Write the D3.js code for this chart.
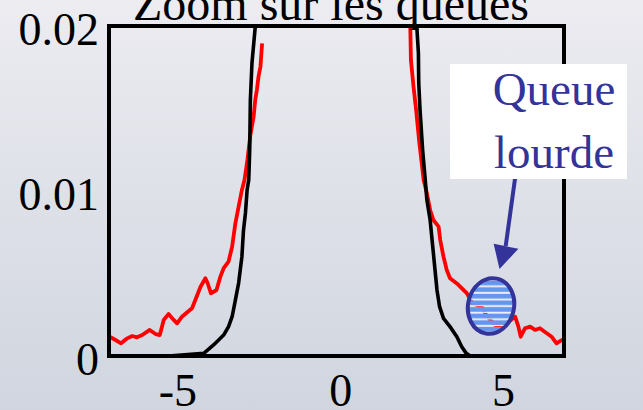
<!DOCTYPE html>
<html>
<head>
<meta charset="utf-8">
<script src="https://cdn.jsdelivr.net/npm/d3@7"></script>
<style>
  body { margin: 0; }
  svg { display: block; }
</style>
</head>
<body>
<div id="chart"></div>
<script>
// normal density (black)
var normLeftX = [-5.28, -4.19, -3.89, -3.58, -3.43, -3.32, -3.22, -3.12, -3.02, -2.97, -2.91, -2.86, -2.81, -2.78, -2.76, -2.71, -2.61, -2.55];
var normLeftY = [0, 0.00016, 0.00067, 0.00127, 0.00178, 0.00238, 0.00339, 0.00442, 0.00602, 0.00764, 0.00867, 0.01006, 0.01067, 0.01248, 0.01552, 0.01776, 0.01994, 0.021];
var normRightX = [2.33, 2.35, 2.40, 2.41, 2.45, 2.53, 2.61, 2.66, 2.76, 2.84, 2.91, 2.97, 3.05, 3.17, 3.37, 3.58, 3.73, 3.87, 3.99, 4.91];
var normRightY = [0.021, 0.01996, 0.01835, 0.01655, 0.01491, 0.01248, 0.01067, 0.00945, 0.00824, 0.00662, 0.00521, 0.004, 0.00299, 0.00228, 0.00178, 0.00117, 0.00056, 0.00016, 0, 0];

// empirical density (red)
var empLeftX = [-7.11, -6.90, -6.73, -6.54, -6.39, -6.24, -6.08, -5.85, -5.67, -5.54, -5.42, -5.27, -5.13, -5.01, -4.86, -4.68, -4.55, -4.45, -4.29, -4.14, -4.07, -3.97, -3.80, -3.68, -3.58, -3.43, -3.32, -3.22, -3.12, -3.02, -2.94, -2.85, -2.76, -2.66, -2.61, -2.56, -2.51, -2.45, -2.40];
var empLeftY = [0.00121, 0.00097, 0.00077, 0.00107, 0.00121, 0.00113, 0.00127, 0.00158, 0.00133, 0.00127, 0.00218, 0.00255, 0.00222, 0.00198, 0.00238, 0.00268, 0.00289, 0.00339, 0.0042, 0.00471, 0.00441, 0.0038, 0.004, 0.00481, 0.00532, 0.00572, 0.00662, 0.00804, 0.00905, 0.01006, 0.01067, 0.01188, 0.01339, 0.0145, 0.01552, 0.01612, 0.01693, 0.01753, 0.01895];
var empRightX = [2.15, 2.17, 2.25, 2.33, 2.42, 2.56, 2.66, 2.76, 2.86, 3.02, 3.07, 3.17, 3.27, 3.37, 3.58, 3.89, 4.04, 4.35, 4.50, 4.75, 4.96, 5.37, 5.47, 5.54, 5.67, 5.83, 5.98, 6.13, 6.34, 6.49, 6.64, 6.80, 6.87];
var empRightY = [0.02, 0.01794, 0.01632, 0.01491, 0.01309, 0.01067, 0.00986, 0.00885, 0.00824, 0.00784, 0.00703, 0.00602, 0.00521, 0.00471, 0.0044, 0.0038, 0.00323, 0.00295, 0.00242, 0.00188, 0.00178, 0.00238, 0.00178, 0.00117, 0.00168, 0.00178, 0.00158, 0.00168, 0.00138, 0.00117, 0.00077, 0.00097, 0.00097];

var xTicks = [-5, 0, 5];
var xTickLabels = ["-5", "0", "5"];
var yTicks = [0, 0.01, 0.02];
var yTickLabels = ["0", "0.01", "0.02"];
var title = "Zoom sur les queues";
var noteLines = ["Queue", "lourde"];

var W = 643, H = 410;
var pLeft = 109, pRight = 564, pTop = 26, pBottom = 356;
var serif = "'Liberation Serif', 'Times New Roman', serif";
var blue = "#333399";
var tilt = 12;

var svg = d3.select("#chart").append("svg")
    .attr("width", W)
    .attr("height", H);

var defs = svg.append("defs");
var bg = defs.append("linearGradient")
    .attr("id", "bg").attr("x1", 0).attr("y1", 0).attr("x2", 0).attr("y2", 1);
bg.append("stop").attr("offset", "0%").attr("stop-color", "#ececf1");
bg.append("stop").attr("offset", "100%").attr("stop-color", "#d0d5df");

defs.append("clipPath").attr("id", "plot")
  .append("rect")
    .attr("x", pLeft).attr("y", pTop)
    .attr("width", pRight - pLeft).attr("height", pBottom - pTop);

var pat = defs.append("pattern")
    .attr("id", "stripes")
    .attr("patternUnits", "userSpaceOnUse")
    .attr("patternTransform", "rotate(" + (-tilt) + ")")
    .attr("width", 8).attr("height", 6.6);
pat.append("rect").attr("x", 0).attr("y", 0).attr("width", 8).attr("height", 4.6).attr("fill", "#6495f0");
pat.append("rect").attr("x", 0).attr("y", 4.6).attr("width", 8).attr("height", 1.2).attr("fill", "#eef1fa");

svg.append("rect")
    .attr("width", W).attr("height", H)
    .attr("fill", "url(#bg)");

var x = d3.scaleLinear().domain([-7.1, 6.87]).range([pLeft, pRight]);
var y = d3.scaleLinear().domain([0, 0.02]).range([pBottom, pTop]);

function pts(xs, ys) {
    return xs.map(function(v, i) { return [v, ys[i]]; });
}

var line = d3.line()
    .x(function(d) { return x(d[0]); })
    .y(function(d) { return y(d[1]); });

var plot = svg.append("g").attr("clip-path", "url(#plot)");

[[empLeftX, empLeftY], [empRightX, empRightY]].forEach(function(s) {
    plot.append("path")
        .attr("d", line(pts(s[0], s[1])))
        .attr("fill", "none")
        .attr("stroke", "#ff0000")
        .attr("stroke-width", 3.8)
        .attr("stroke-linejoin", "round");
});

[[normLeftX, normLeftY], [normRightX, normRightY]].forEach(function(s) {
    plot.append("path")
        .attr("d", line(pts(s[0], s[1])))
        .attr("fill", "none")
        .attr("stroke", "#000")
        .attr("stroke-width", 3.6)
        .attr("stroke-linejoin", "round");
});

// frame
svg.append("rect")
    .attr("x", pLeft).attr("y", pTop)
    .attr("width", pRight - pLeft).attr("height", pBottom - pTop)
    .attr("fill", "none")
    .attr("stroke", "#000")
    .attr("stroke-width", 4);

// axes
var yAxis = svg.append("g")
    .attr("transform", "translate(" + pLeft + ",0)")
    .call(d3.axisLeft(y).tickValues(yTicks).tickSize(0)
        .tickFormat(function(d, i) { return yTickLabels[i]; }));
yAxis.select(".domain").remove();
yAxis.selectAll("text")
    .attr("x", -10)
    .attr("dy", "0.4em")
    .attr("fill", "#000")
    .style("font-family", serif)
    .style("font-size", "46px");

var xAxis = svg.append("g")
    .attr("transform", "translate(0," + pBottom + ")")
    .call(d3.axisBottom(x).tickValues(xTicks).tickSize(0)
        .tickFormat(function(d, i) { return xTickLabels[i]; }));
xAxis.select(".domain").remove();
xAxis.selectAll("text")
    .attr("y", 17)
    .attr("fill", "#000")
    .style("font-family", serif)
    .style("font-size", "46px");

svg.append("text")
    .attr("x", 331)
    .attr("y", 20)
    .attr("text-anchor", "middle")
    .style("font-family", serif)
    .style("font-size", "48px")
    .text(title);

// heavy tail annotation
var ec = [x(4.63), y(0.00303)];
svg.append("ellipse")
    .attr("cx", ec[0]).attr("cy", ec[1])
    .attr("rx", 23).attr("ry", 28)
    .attr("transform", "rotate(" + tilt + "," + ec[0] + "," + ec[1] + ")")
    .attr("fill", "url(#stripes)")
    .attr("stroke", blue)
    .attr("stroke-width", 4);

var tip = [x(4.89), y(0.00527)];
var base = [x(5.08), y(0.00667)];
svg.append("line")
    .attr("x1", x(5.37)).attr("y1", y(0.0108))
    .attr("x2", base[0]).attr("y2", base[1])
    .attr("stroke", blue)
    .attr("stroke-width", 4);
svg.append("polygon")
    .attr("points", [tip, [x(4.71), y(0.0068)], [x(5.47), y(0.0065)]].map(function(p) { return p.join(","); }).join(" "))
    .attr("fill", blue);

svg.append("rect")
    .attr("x", 450).attr("y", 64)
    .attr("width", 177).attr("height", 115)
    .attr("fill", "#fff");

svg.append("g").selectAll("text")
    .data(noteLines)
    .enter()
    .append("text")
    .attr("x", 554)
    .attr("y", function(d, i) { return 105 + i * 63; })
    .attr("text-anchor", "middle")
    .attr("fill", blue)
    .style("font-family", serif)
    .style("font-size", "47px")
    .text(function(d) { return d; });
</script>
</body>
</html>
